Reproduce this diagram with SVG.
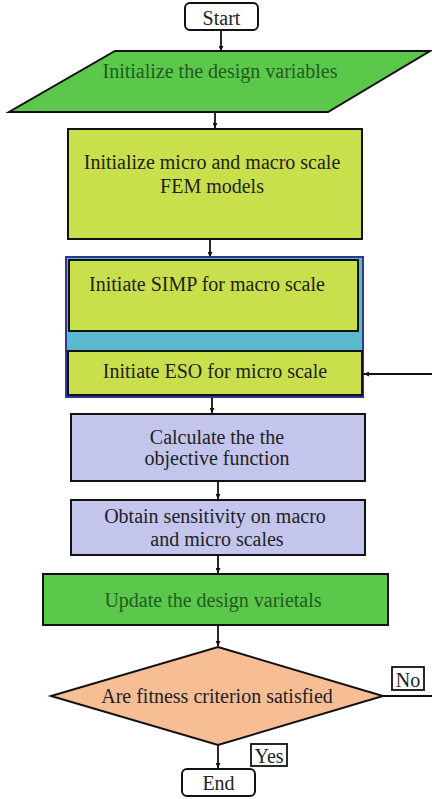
<svg xmlns="http://www.w3.org/2000/svg" width="432" height="799" viewBox="0 0 432 799">
<style>
text{font-family:"Liberation Serif","Times New Roman",serif;font-size:20px;fill:#222;text-anchor:middle}
.s{stroke:#111;stroke-width:2}
.g{fill:#5CC84B}
.y{fill:#C9DF4B}
.l{fill:#C3C5EC}
.gt{fill:#1F5C22}
.c{stroke:#111;stroke-width:1.8;fill:none}
.lab{fill:#fff;stroke:#111;stroke-width:1.8}
</style>
<defs>
<marker id="a" viewBox="0 0 10 10" refX="10" refY="5" markerWidth="5" markerHeight="5" orient="auto" markerUnits="userSpaceOnUse">
<path d="M0,0 L10,5 L0,10 z" fill="#111"/>
</marker>
</defs>
<rect width="432" height="799" fill="#fff"/>
<g id="connectors">
<line class="c" x1="221" y1="30" x2="221" y2="51" marker-end="url(#a)"/>
<line class="c" x1="215" y1="112" x2="215" y2="128" marker-end="url(#a)"/>
<line class="c" x1="210" y1="239" x2="210" y2="257" marker-end="url(#a)"/>
<line class="c" x1="212" y1="331" x2="212" y2="350" marker-end="url(#a)"/>
<line class="c" x1="212" y1="397" x2="212" y2="413" marker-end="url(#a)"/>
<line class="c" x1="218" y1="481" x2="218" y2="499" marker-end="url(#a)"/>
<line class="c" x1="218" y1="555" x2="218" y2="573" marker-end="url(#a)"/>
<line class="c" x1="218" y1="625" x2="218" y2="646" marker-end="url(#a)"/>
<line class="c" x1="218" y1="745" x2="218" y2="768" marker-end="url(#a)"/>
<line class="c" x1="383" y1="696" x2="432" y2="696"/>
<line class="c" x1="432" y1="374" x2="364" y2="374" marker-end="url(#a)"/>
</g>
<g id="start">
<rect class="s" x="185" y="3" width="73" height="27" rx="5" fill="#fff"/>
<text x="221.5" y="25">Start</text>
</g>
<g id="init-vars">
<polygon class="s g" points="115,51 430,51 328,112 9,112"/>
<text class="gt" x="220" y="78">Initialize the design variables</text>
</g>
<g id="init-fem">
<rect class="s y" x="68" y="129" width="294" height="110"/>
<text x="212" y="169">Initialize micro and macro scale</text>
<text x="212" y="193">FEM models</text>
</g>
<g id="group-box">
<rect x="66" y="257" width="297" height="140" fill="#5BB9CE" stroke="#2B3A8F" stroke-width="2"/>
</g>
<g id="simp">
<rect class="s y" x="69" y="260" width="289" height="71"/>
<text x="207" y="291">Initiate SIMP for macro scale</text>
</g>
<g id="eso">
<rect class="s y" x="68" y="351" width="294" height="44"/>
<text x="215" y="378">Initiate ESO for micro scale</text>
</g>
<g id="calc">
<rect class="s l" x="71" y="414" width="294" height="67"/>
<text x="217" y="444">Calculate the the</text>
<text x="217" y="465">objective function</text>
</g>
<g id="sens">
<rect class="s l" x="71" y="500" width="294" height="55"/>
<text x="215" y="523">Obtain sensitivity on macro</text>
<text x="217" y="546">and micro scales</text>
</g>
<g id="update">
<rect class="s g" x="43" y="574" width="345" height="51"/>
<text class="gt" x="213" y="607">Update the design varietals</text>
</g>
<g id="decision">
<polygon class="s" fill="#F7BD95" points="218,647 383,696 218,745 51,696"/>
<text x="217" y="703">Are fitness criterion satisfied</text>
</g>
<g id="no-label">
<rect class="lab" x="392" y="667" width="32" height="23"/>
<text x="408" y="687">No</text>
</g>
<g id="yes-label">
<rect class="lab" x="251" y="744" width="36" height="22"/>
<text x="269" y="763">Yes</text>
</g>
<g id="end">
<rect class="s" x="182" y="769" width="73" height="27" rx="5" fill="#fff"/>
<text x="218.5" y="790">End</text>
</g>
</svg>
